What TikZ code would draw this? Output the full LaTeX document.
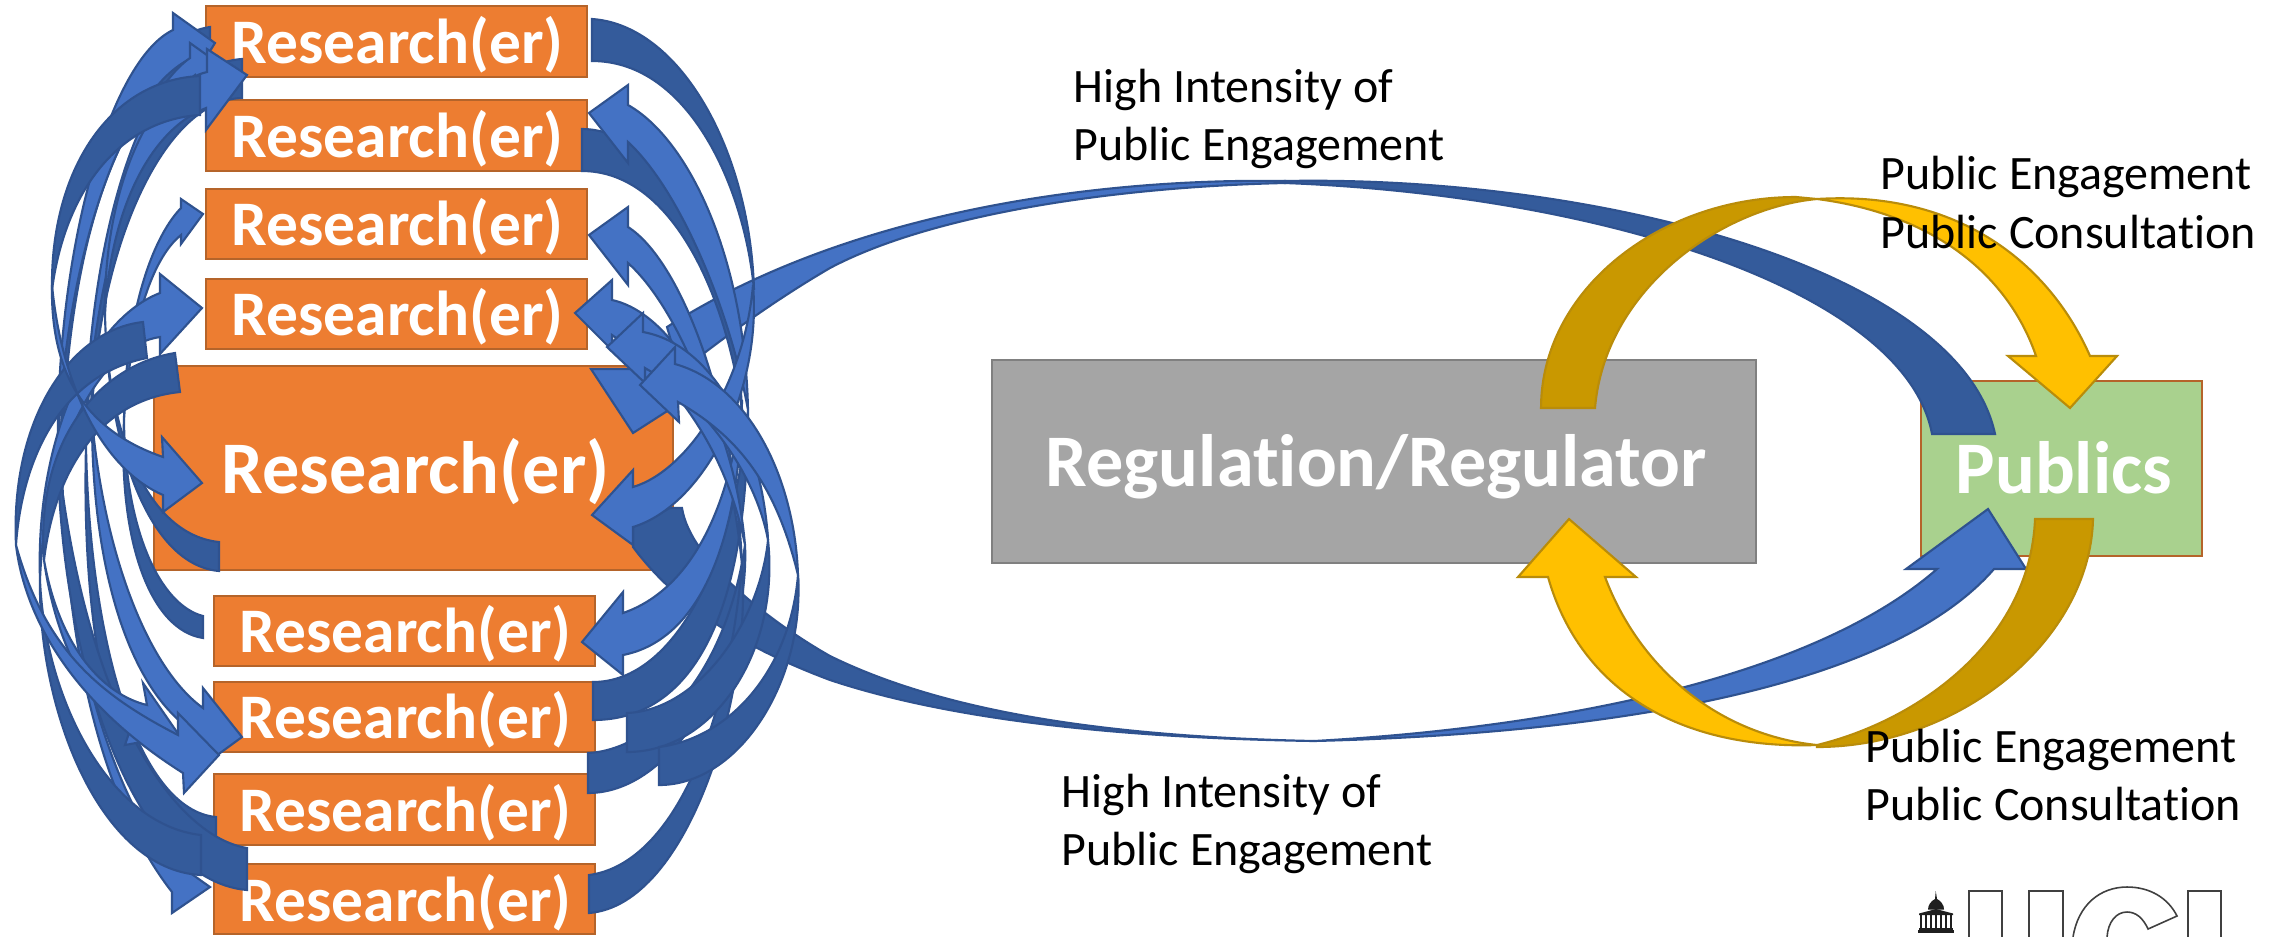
\documentclass[tikz,border=0pt]{standalone}
\usepackage{fontspec}
\setmainfont{Carlito}[Ligatures={NoCommon}]
\definecolor{lt}{HTML}{4472C4}
\definecolor{dk}{HTML}{345B9B}
\definecolor{edgeb}{HTML}{2F528F}
\definecolor{gl}{HTML}{FFC000}
\definecolor{gd}{HTML}{C99800}
\definecolor{edgeg}{HTML}{B98C0A}
\definecolor{org}{HTML}{ED7D31}
\definecolor{orgedge}{HTML}{B5642A}
\definecolor{pubgreen}{HTML}{A9D18E}
\newcommand\rshape[2]{\draw[#1] #2 -- cycle;}
\tikzset{
  lb/.style={fill=lt,draw=edgeb,line width=.6pt,line join=miter},
  db/.style={fill=dk,draw=edgeb,line width=.6pt,line join=miter},
  lg/.style={fill=gl,draw=edgeg,line width=.6pt,line join=miter},
  dg/.style={fill=gd,draw=edgeg,line width=.6pt,line join=miter},
  rbox/.style={draw=orgedge,fill=org,line width=.7pt,inner sep=0pt,text=white,text height=12.5pt,text depth=0pt,font=\bfseries\fontsize{18.05}{20}\selectfont,execute at begin node={\hspace*{.6pt}}},
  bigbox/.style={draw=orgedge,fill=org,line width=.7pt,inner sep=0pt,text=white,text height=14.3pt,text depth=0pt,font=\bfseries\fontsize{21.1}{24}\selectfont,execute at begin node={\hspace*{1.3pt}}},
  lab/.style={anchor=west,align=left,inner sep=0pt,text=black,font=\fontsize{13.65}{16.6}\selectfont},
  logoline/.style={draw=black!75,line width=.45pt},
  logofill/.style={fill=black!88,draw=none}
}
\begin{document}
\begin{tikzpicture}[x=0.01cm,y=-0.01cm]
\useasboundingbox (0,0) rectangle (2280,936);
\fill[white] (0,0) rectangle (2280,936);

% boxes
\node[rbox,minimum width=3.81cm,minimum height=.71cm] (r1) at (396.5,41.5) {Research(er)};
\node[rbox,minimum width=3.81cm,minimum height=.71cm] (r2) at (396.5,135.5) {Research(er)};
\node[rbox,minimum width=3.81cm,minimum height=.70cm] (r3) at (396.5,224) {Research(er)};
\node[rbox,minimum width=3.81cm,minimum height=.70cm] (r4) at (396.5,314) {Research(er)};
\node[bigbox,minimum width=5.19cm,minimum height=2.04cm] (r5) at (413.5,468) {Research(er)};
\node[rbox,minimum width=3.81cm,minimum height=.70cm] (r6) at (404.5,631) {Research(er)};
\node[rbox,minimum width=3.81cm,minimum height=.70cm] (r7) at (404.5,717) {Research(er)};
\node[rbox,minimum width=3.81cm,minimum height=.71cm] (r8) at (404.5,809.5) {Research(er)};
\node[rbox,minimum width=3.81cm,minimum height=.70cm] (r9) at (404.5,899) {Research(er)};
\node[bigbox,draw=black!50,fill=black!35.3,minimum width=7.64cm,minimum height=2.03cm] (reg) at (1374,461.5) {Regulation/Regulator};
\node[bigbox,fill=pubgreen,minimum width=2.81cm,minimum height=1.75cm] (pub) at (2061.5,468.5) {Publics};

% left side: lower tails and lights
\rshape{lb}{(172,868) .. controls (110,790) and (65,640) .. (62,466) .. controls (65,640) and (100,800) .. (172,892) -- (172,913) -- (210,887) -- (155,848)}
\rshape{db}{(210,27) .. controls (120,40) and (55,230) .. (62,466) .. controls (65,250) and (120,75) .. (210,62)}
\rshape{db}{(242,59) .. controls (150,65) and (85,230) .. (92,420) .. controls (95,260) and (160,100) .. (242,98)}
\rshape{db}{(216,817) .. controls (140,810) and (90,650) .. (86,446) .. controls (80,680) and (130,843) .. (216,843)}
\rshape{db}{(247,848) .. controls (170,835) and (85,700) .. (58,456) .. controls (60,650) and (130,880) .. (247,890)}
\rshape{db}{(201,835) .. controls (110,825) and (45,700) .. (40,580) .. controls (38,710) and (100,870) .. (201,875)}
\rshape{db}{(219,542) .. controls (150,535) and (108,440) .. (105,315) .. controls (108,450) and (150,565) .. (219,571)}
\rshape{db}{(203,616) .. controls (160,605) and (125,530) .. (124,420) .. controls (118,540) and (150,630) .. (203,638)}
\rshape{lb}{(147,705) .. controls (105,695) and (60,650) .. (44,560) .. controls (55,640) and (90,710) .. (130,730) -- (125,745) -- (179,735) -- (143,683)}
\rshape{lb}{(203,708) .. controls (150,670) and (105,560) .. (92,420) .. controls (92,560) and (125,680) .. (187,727) -- (190,775) -- (242,737) -- (203,688)}
\rshape{lb}{(178,735) .. controls (100,695) and (45,650) .. (16,545) .. controls (25,620) and (75,705) .. (183,773) -- (184,793) -- (219,755) -- (178,713)}
% left side: upper lights
\rshape{lb}{(173,30) .. controls (110,60) and (55,250) .. (58,456) .. controls (62,270) and (120,90) .. (192,58) -- (195,75) -- (215,43) -- (173,13)}
\rshape{lb}{(190,58) .. controls (130,100) and (85,270) .. (86,446) .. controls (90,290) and (135,130) .. (195,75) -- (200,90) -- (218,63) -- (190,43)}
\rshape{lb}{(181,208) .. controls (150,240) and (125,320) .. (124,420) .. controls (130,330) and (150,260) .. (181,235) -- (181,244) -- (203,214) -- (181,199)}
\rshape{lb}{(160,293) .. controls (90,320) and (35,440) .. (40,580) .. controls (45,450) and (100,345) .. (160,337) -- (160,354) -- (202,308) -- (160,274)}
\rshape{lb}{(207,72) .. controls (150,85) and (103,190) .. (105,315) .. controls (110,210) and (150,130) .. (206,108) -- (206,130) -- (247,75) -- (207,49)}
% dark tails on top
\rshape{db}{(200,76) .. controls (110,80) and (50,170) .. (52,290) .. controls (65,190) and (120,120) .. (200,115)}
\rshape{db}{(143,322) .. controls (70,330) and (10,420) .. (16,545) .. controls (22,460) and (60,375) .. (147,358)}
\rshape{db}{(175,353) .. controls (100,365) and (35,440) .. (44,560) .. controls (55,470) and (100,400) .. (180,392)}
\rshape{lb}{(163,457) .. controls (100,435) and (50,390) .. (52,285) .. controls (62,390) and (105,470) .. (163,495) -- (163,512) -- (202,483) -- (162,437)}

% right side: tails
\rshape{db}{(682,508) .. controls (690,560) and (770,622) .. (830,656) .. controls (950,715) and (1120,737) .. (1314,741) .. controls (1120,738) and (950,720) .. (830,680) .. controls (750,650) and (680,610) .. (633,547) -- (633,527) -- (670,508)}
\rshape{lb}{(667,327) .. controls (850,210) and (1100,178) .. (1285,181) -- (1285,183) .. controls (1110,187) and (930,215) .. (830,268) .. controls (775,300) and (720,340) .. (680,372)}
\draw[lb] (591,369) -- (633,433) -- (700,390) -- (680,365) -- (660,345) -- (650,369) -- cycle;
\rshape{db}{(592,19) .. controls (680,25) and (750,150) .. (754,290) .. controls (745,190) and (690,61) .. (592,61)}
\rshape{db}{(582,129) .. controls (660,129) and (735,250) .. (742,410) .. controls (725,290) and (670,171) .. (582,171)}
\rshape{db}{(593,682) .. controls (675,682) and (735,560) .. (748,410) .. controls (748,620) and (690,720) .. (593,720)}
\rshape{db}{(588,753) .. controls (650,750) and (725,680) .. (745,545) .. controls (750,650) and (680,793) .. (588,793)}
\rshape{db}{(589,875) .. controls (665,865) and (725,750) .. (742,565) .. controls (752,690) and (690,905) .. (589,913)}
\rshape{db}{(627,713) .. controls (700,710) and (760,620) .. (768,540) .. controls (780,650) and (715,752) .. (627,752)}
\rshape{db}{(659,747) .. controls (730,738) and (790,670) .. (798,575) .. controls (805,680) and (740,785) .. (659,785)}
% right side: lights
\rshape{lb}{(628,105) .. controls (690,140) and (745,260) .. (748,410) .. controls (730,310) and (680,190) .. (628,142) -- (628,163) -- (589,113) -- (628,85)}
\rshape{lb}{(628,227) .. controls (680,260) and (735,400) .. (742,565) .. controls (728,420) and (675,305) .. (628,263) -- (628,285) -- (589,235) -- (628,207)}
\rshape{lb}{(623,613) .. controls (690,590) and (730,510) .. (742,400) .. controls (740,540) and (700,640) .. (623,655) -- (623,675) -- (582,642) -- (623,592)}
\rshape{lb}{(633,487) .. controls (690,470) and (745,380) .. (753,285) .. controls (762,390) and (705,505) .. (633,527) -- (633,545) -- (592,515) -- (633,470)}
\rshape{lb}{(612,300) .. controls (680,315) and (735,430) .. (745,545) .. controls (725,445) and (670,375) .. (612,335) -- (612,350) -- (575,313) -- (612,280)}
\rshape{lb}{(643,332) .. controls (715,345) and (762,440) .. (768,540) .. controls (755,470) and (700,400) .. (645,368) -- (645,383) -- (607,347) -- (643,313)}
\rshape{lb}{(675,364) .. controls (750,385) and (795,480) .. (798,575) .. controls (775,480) and (735,435) .. (678,402) -- (679,422) -- (640,385) -- (675,347)}

% big loop on the right
\rshape{db}{(1285,181) .. controls (1600,175) and (1960,270) .. (1995,434) -- (1932,434) .. controls (1905,290) and (1600,195) .. (1285,183)}
\rshape{lb}{(1937,569) .. controls (1810,680) and (1550,728) .. (1314,741) .. controls (1560,735) and (1880,700) .. (1994,569) -- (2026,569) -- (1988,509) -- (1906,569)}
% gold arrows
\rshape{dg}{(1541,408) .. controls (1541,290) and (1660,197) .. (1796,197) -- (1817,199) .. controls (1720,208) and (1605,290) .. (1595,408)}
\rshape{lg}{(2036,356) .. controls (2010,280) and (1940,215) .. (1817,199) .. controls (1960,190) and (2050,265) .. (2090,356) -- (2117,356) -- (2070,408) -- (2008,356)}
\rshape{dg}{(2093,519) .. controls (2090,640) and (1960,747) .. (1817,747) -- (1817,745) .. controls (1920,720) and (2030,640) .. (2035,519)}
\rshape{lg}{(1548,577) .. controls (1580,690) and (1680,750) .. (1817,745) .. controls (1720,735) and (1640,670) .. (1605,577) -- (1636,577) -- (1569,519) -- (1518,577)}

% labels
\node[lab] (t1) at (1073,119) {High Intensity of\\Public Engagement};
\node[lab] (t2) at (1061,824) {High Intensity of\\Public Engagement};
\node[lab] (t3) at (1880,202.5) {Public Engagement\\Public Consultation};
\node[lab] (t4) at (1865,775) {Public Engagement\\Public Consultation};

% logo
\draw[logoline] (1969,937) -- (1969,891) -- (2002,891) -- (2002,937);
\draw[logoline] (2029,937) -- (2029,891) -- (2063,891) -- (2063,937);
\draw[logoline] (2073,937) .. controls (2078,905) and (2100,887) .. (2127,887) .. controls (2150,887) and (2168,898) .. (2177,916) -- (2148,929) .. controls (2143,918) and (2136,912) .. (2127,912) .. controls (2116,912) and (2108,922) .. (2107,937);
\draw[logoline] (2188,937) -- (2188,891) -- (2221,891) -- (2221,937);
\fill[logofill] (1935.7,891) -- (1937,899) .. controls (1941,901) and (1944,905) .. (1944,909.5) -- (1928,909.5) .. controls (1928,905) and (1931,901) .. (1935,899) -- cycle;
\fill[logofill] (1936,909) -- (1953,913.5) -- (1953,915) -- (1919,915) -- (1919,913.5) -- cycle;
\foreach \cx in {1921,1926,1931,1936,1941,1946,1951}{\fill[logofill] (\cx-1.3,915) rectangle (\cx+1.3,929);}
\fill[logofill] (1919,928) rectangle (1953,930);
\fill[logofill] (1917.5,930) rectangle (1954,933);
\end{tikzpicture}
\end{document}
